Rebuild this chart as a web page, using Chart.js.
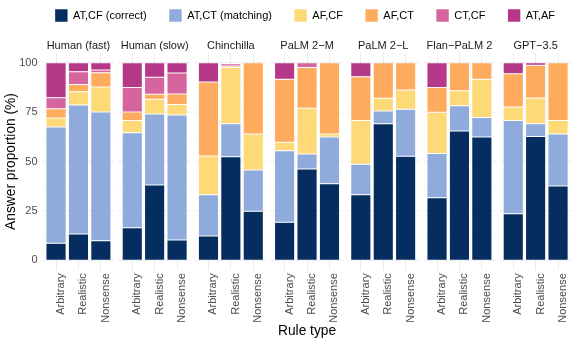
<!DOCTYPE html>
<html><head><meta charset="utf-8">
<script src="https://cdn.jsdelivr.net/npm/chart.js@4.4.1/dist/chart.umd.min.js"></script>
<style>html,body{margin:0;padding:0;background:#fff}canvas{display:block}</style>
</head><body>
<canvas id="c" width="576" height="345"></canvas>
<script>
// ---- data ----
const panels = ['Human (fast)', 'Human (slow)', 'Chinchilla', 'PaLM 2\u2212M', 'PaLM 2\u2212L', 'Flan\u2212PaLM 2', 'GPT\u22123.5'];
const ruleTypes = ['Arbitrary', 'Realistic', 'Nonsense'];
const seriesNames = ['AT,CF (correct)', 'AT,CT (matching)', 'AF,CF', 'AF,CT', 'CT,CF', 'AT,AF'];
const yTickValues = [0, 25, 50, 75, 100];

// values per panel, in order Arbitrary, Realistic, Nonsense
const atCfCorrect  = [8.6, 13.3, 9.9,   16.5, 38.1, 10.3,  12.3, 52.4, 24.8,  19.2, 46.2, 38.8,  33.2, 69.1, 52.6,  31.7, 65.4, 62.4,  23.6, 62.7, 37.6];
const atCtMatching = [58.9, 65.3, 65.1, 48.1, 35.9, 63.2,  20.9, 16.7, 20.9,  36.3, 7.6, 23.6,   15.4, 6.4, 23.8,   22.4, 12.8, 9.8,   47.1, 6.4, 26.3];
const afCf         = [4.5, 6.7, 12.7,   6.2, 7.5, 5.4,     19.6, 28.4, 18.2,  4.2, 23.1, 1.5,    22.2, 6.5, 9.8,    20.8, 7.6, 19.4,   6.9, 13.0, 6.9];
const afCt         = [4.7, 3.7, 7.2,    4.2, 2.5, 5.2,     37.4, 0.8, 36.1,   31.9, 20.6, 36.1,  22.1, 18.0, 13.8,  12.5, 14.2, 8.4,   16.8, 16.6, 29.2];
const ctCf         = [5.6, 6.4, 1.4,    12.5, 8.6, 10.7,   0, 1.2, 0,         0, 2.5, 0,         0, 0, 0,           0, 0, 0,           0, 0, 0];
const atAf         = [17.7, 4.6, 3.7,   12.5, 7.4, 5.2,    9.8, 0.5, 0,       8.4, 0, 0,         7.1, 0, 0,         12.6, 0, 0,        5.6, 1.3, 0];

// ---- styling / layout ----
const colors = ['#062d5f', '#8fabdc', '#fed977', '#feab5e', '#d5649f', '#b63888'];
const PANEL_STEP = 3.4;           // distance between panels, in bar slots
const xOf = (p, r) => p * PANEL_STEP + r + 1;
const xPositions = [];
panels.forEach((_, p) => ruleTypes.forEach((_, r) => xPositions.push(xOf(p, r))));
const X_MIN = 0.4, X_MAX = (panels.length - 1) * PANEL_STEP + 3.6;

Chart.defaults.font.family = '"Liberation Sans", Arial, Helvetica, sans-serif';

const seriesValues = [atCfCorrect, atCtMatching, afCf, afCt, ctCf, atAf];
const datasets = seriesNames.map((name, k) => ({
  label: name,
  data: seriesValues[k].map((v, i) => ({ x: xPositions[i], y: v })),
  backgroundColor: colors[k],
  borderColor: 'rgba(255,255,255,0.55)',
  borderWidth: 0.5,
  borderSkipped: false,
  categoryPercentage: 1,
  barPercentage: 0.9
}));

const panelGrid = {
  id: 'panelGrid',
  beforeDatasetsDraw(chart) {
    const { ctx, scales: { x, y } } = chart;
    ctx.save();
    ctx.strokeStyle = '#ebebeb';
    panels.forEach((_, p) => {
      const l = x.getPixelForValue(p * PANEL_STEP + 0.4);
      const r = x.getPixelForValue(p * PANEL_STEP + 3.6);
      [12.5, 37.5, 62.5, 87.5].forEach(v => {
        const py = y.getPixelForValue(v);
        ctx.lineWidth = 0.5;
        ctx.beginPath(); ctx.moveTo(l, py); ctx.lineTo(r, py); ctx.stroke();
      });
      yTickValues.forEach(v => {
        const py = y.getPixelForValue(v);
        ctx.lineWidth = 1;
        ctx.beginPath(); ctx.moveTo(l, py); ctx.lineTo(r, py); ctx.stroke();
      });
    });
    ctx.restore();
  }
};

const LEGEND_H = 30;
const noPad = s => { s.paddingLeft = 0; s.paddingRight = 0; s.paddingTop = 0; s.paddingBottom = 0; };
const layoutTweak = {
  id: 'layoutTweak',
  beforeLayout(chart) {
    const lg = chart.legend;
    if (lg && !lg._patched) {
      const f = lg.fit;
      lg.fit = function () { f.call(this); this.height = LEGEND_H; };
      lg._patched = true;
    }
  },
  afterLayout(chart) {
    const lg = chart.legend;
    const a = chart.chartArea;
    const cx = (a.left + a.right) / 2 - 2;
    lg.left = cx - 300; lg.right = cx + 300;
    lg.top = 9.3 - lg.options.labels.padding;
  }
};

new Chart(document.getElementById('c'), {
  type: 'bar',
  data: { datasets },
  plugins: [panelGrid, layoutTweak],
  options: {
    responsive: false,
    animation: false,
    devicePixelRatio: 1,
    layout: { padding: { left: 0, right: 4.5, top: 0, bottom: 0 } },
    plugins: {
      tooltip: { enabled: false },
      legend: {
        position: 'top',
        align: 'center',
        labels: {
          boxWidth: 12.4, boxHeight: 12.4, padding: 22.5,
          color: '#000', font: { size: 11 },
          generateLabels(chart) {
            const items = Chart.defaults.plugins.legend.labels.generateLabels(chart);
            items.forEach(it => { it.lineWidth = 0; it.strokeStyle = 'rgba(0,0,0,0)'; });
            return items;
          }
        }
      }
    },
    scales: {
      x: {
        type: 'linear', position: 'bottom', min: X_MIN, max: X_MAX, stacked: true, offset: false,
        afterBuildTicks: s => { s.ticks = xPositions.map(v => ({ value: v })); },
        afterFit: s => { s.height = 74.8; noPad(s); },
        ticks: {
          autoSkip: false, minRotation: 90, maxRotation: 90, padding: 3, labelOffset: 5,
          color: '#4d4d4d', font: { size: 11 },
          callback: (v, i) => ruleTypes[i % ruleTypes.length]
        },
        grid: { color: '#ebebeb', lineWidth: 1, drawTicks: false, offset: false },
        border: { display: false },
        title: { display: true, text: 'Rule type', color: '#000', font: { size: 13.75 }, padding: { top: 0, bottom: 5.75 } }
      },
      xTop: {
        type: 'linear', position: 'top', min: X_MIN, max: X_MAX, offset: false,
        afterBuildTicks: s => { s.ticks = panels.map((_, p) => ({ value: p * PANEL_STEP + 2 })); },
        afterFit: s => { s.height = 52.8 - LEGEND_H; noPad(s); },
        ticks: {
          autoSkip: false, minRotation: 0, maxRotation: 0, padding: 0,
          color: '#1a1a1a', font: { size: 11 },
          callback: (v, i) => panels[i]
        },
        grid: { display: false, drawTicks: false, offset: false },
        border: { display: false }
      },
      y: {
        stacked: true, min: -5, max: 105,
        afterBuildTicks: s => { s.ticks = yTickValues.map(v => ({ value: v })); },
        afterFit: s => { s.width = 42.6; noPad(s); },
        ticks: { padding: 5, color: '#4d4d4d', font: { size: 11 } },
        grid: { display: false, drawTicks: false },
        border: { display: false },
        title: { display: true, text: 'Answer proportion (%)', color: '#000', font: { size: 13.75 }, padding: { top: 3, bottom: 0 } }
      }
    }
  }
});
</script>
</body></html>
